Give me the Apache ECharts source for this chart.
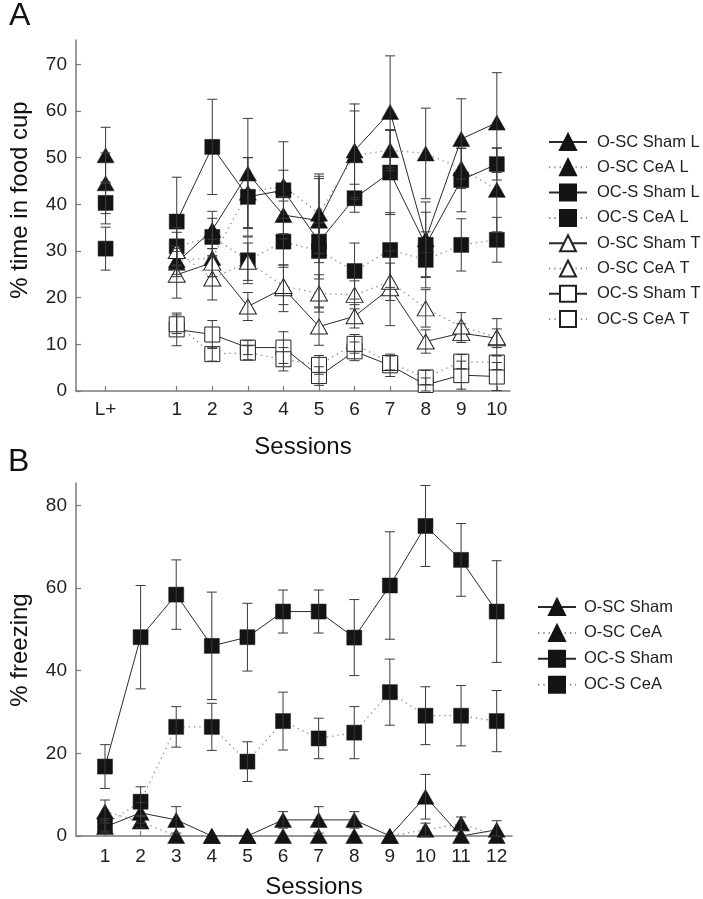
<!DOCTYPE html>
<html><head><meta charset="utf-8">
<script src="https://cdn.jsdelivr.net/npm/echarts@6/dist/echarts.min.js"></script>
<style>html,body{margin:0;padding:0;background:#fff}#c{width:703px;height:899px}</style>
</head><body><div id="c"></div>
<script>
// ---------- Panel A data ----------
const sessionsA = [1,2,3,4,5,6,7,8,9,10];
const lPlusPos = -1;
const xTickValuesA = [-1,1,2,3,4,5,6,7,8,9,10];
const xTickLabelsA = ['L+','1','2','3','4','5','6','7','8','9','10'];
const yTicksA = [0,10,20,30,40,50,60,70];

const oscShamL      = [27.5, 34.5, 46.6, 37.7, 36.5, 51.5, 59.8, 32.5, 54.0, 57.5];
const oscShamLErr   = [3, 4, 11.8, 4, 9, 10, 12, 8, 8.6, 10.7];
const oscShamLPlus  = [50.5, 6];
const oscCeaL       = [28.0, 28.5, 42.5, 44.0, 38.0, 50.5, 51.6, 50.9, 47.7, 43.1];
const oscCeaLErr    = [3, 4, 7.5, 3.3, 8.5, 9.5, 4.4, 9.7, 4.3, 9];
const oscCeaLPlus   = [44.5, 6.5];
const ocsShamL      = [36.3, 52.3, 41.6, 43.0, 32.0, 41.3, 46.8, 31.3, 45.2, 48.6];
const ocsShamLErr   = [9.5, 10.2, 8.4, 10.4, 14, 3, 9, 7, 6.8, 3.4];
const ocsShamLPlus  = [40.3, 4.5];
const ocsCeaL       = [31.0, 33.0, 28.0, 32.0, 30.0, 25.7, 30.2, 28.1, 31.3, 32.4];
const ocsCeaLErr    = [4, 4, 5, 5, 6, 6, 8, 6, 5.6, 4.8];
const ocsCeaLPlus   = [30.5, 4.6];
const oscShamT      = [24.9, 27.5, 18.1, 22.0, 13.8, 16.0, 22.0, 10.6, 12.4, 11.3];
const oscShamTErr   = [5, 3, 3, 5, 4, 2.5, 8, 2.5, 2, 2];
const oscCeaT       = [30.0, 24.1, 27.7, 22.5, 20.9, 20.6, 23.4, 17.7, 13.8, 11.5];
const oscCeaTErr    = [4, 4.6, 4, 4, 4, 3, 4, 4, 3, 4];
const ocsShamT      = [13.2, 12.1, 9.3, 9.3, 3.2, 8.5, 5.5, 1.3, 3.4, 3.1];
const ocsShamTErr   = [3.5, 3, 1.5, 3.4, 2, 2, 2.4, 1.5, 3, 3];
const ocsCeaT       = [14.3, 7.9, 8.2, 6.8, 5.6, 10.1, 6.0, 2.9, 6.3, 6.1];
const ocsCeaTErr    = [2, 1.5, 1.5, 2.5, 2, 2, 1.5, 1.5, 1.5, 1.5];

// ---------- Panel B data ----------
const sessionsB = [1,2,3,4,5,6,7,8,9,10,11,12];
const yTicksB = [0,20,40,60,80];
const oscSham     = [2.2, 5.6, 3.9, 0, 0, 3.9, 3.9, 3.9, 0, 9.5, 0, 1.5];
const oscShamErr  = [1.5, 2.5, 3.2, 0, 0, 2, 3.2, 2, 0, 5.4, 0, 2.2];
const oscCea      = [5.9, 3.5, 0, 0, 0, 0, 0, 0, 0, 1.5, 3.0, 0];
const oscCeaErr   = [2.8, 1.5, 0, 0, 0, 0, 0, 0, 0, 1.6, 1.6, 0];
const ocsSham     = [16.8, 48.1, 58.4, 46.0, 48.1, 54.3, 54.3, 48.0, 60.6, 75.0, 66.8, 54.3];
const ocsShamErr  = [5.3, 12.5, 8.4, 13, 8.2, 5.2, 5.2, 9.2, 13, 9.8, 8.8, 12.3];
const ocsCea      = [2.7, 8.3, 26.4, 26.4, 18.0, 27.8, 23.6, 25.0, 34.8, 29.1, 29.1, 27.8];
const ocsCeaErr   = [1.5, 3.6, 4.9, 5.7, 4.8, 7, 4.9, 6.3, 8, 7, 7.3, 7.4];

// ---------- helpers ----------
const FONT = "'Liberation Sans', Arial, sans-serif";
const BLACK = '#141414';
function pairs(xs, ys){ return xs.map((x,i)=>[x, ys[i]]); }
function errs(xs, ys, es){ return xs.map((x,i)=>[x, ys[i], es[i]]).filter(d=>d[2]>0); }

function renderErr(params, api){
  const x = api.value(0), y = api.value(1), e = api.value(2);
  const top = api.coord([x, y + e]);
  const bot = api.coord([x, Math.max(0, y - e)]);
  const hw = 5;
  const st = {stroke:'#3a3a3a', lineWidth:1};
  return {type:'group', children:[
    {type:'line', shape:{x1:top[0],y1:top[1],x2:bot[0],y2:bot[1]}, style:st},
    {type:'line', shape:{x1:top[0]-hw,y1:top[1],x2:top[0]+hw,y2:top[1]}, style:st},
    {type:'line', shape:{x1:bot[0]-hw,y1:bot[1],x2:bot[0]+hw,y2:bot[1]}, style:st}
  ]};
}

const solid  = {color:'#2a2a2a', width:1, type:'solid'};
const dotted = {color:'#8a8a8a', width:1.3, type:[1.3,4]};
const triSize = [17,15];
const sqSize = 15;

function lineSeries(name, grid, xs, ys, opts){
  return Object.assign({
    name, type:'line', xAxisIndex:grid, yAxisIndex:grid,
    data: pairs(xs, ys), showSymbol:true, connectNulls:false,
    animation:false, z:3
  }, opts);
}
function errSeries(grid, data){
  return {type:'custom', xAxisIndex:grid, yAxisIndex:grid, renderItem:renderErr,
    data, encode:{x:0,y:1}, z:4, silent:true, animation:false, clip:false};
}

const blackTri  = {symbol:'triangle', symbolSize:triSize, itemStyle:{color:BLACK, borderColor:BLACK, borderWidth:0.5}};
const blackSq   = {symbol:'rect', symbolSize:sqSize, itemStyle:{color:BLACK, borderColor:BLACK, borderWidth:0.5}};
const whiteTri  = {symbol:'triangle', symbolSize:triSize, itemStyle:{color:'#fff', borderColor:'#222', borderWidth:1}};
const whiteSq   = {symbol:'rect', symbolSize:sqSize, itemStyle:{color:'#fff', borderColor:'#222', borderWidth:1}};

function withLplus(ys, lp){
  // L+ point is drawn separately (not joined to session 1)
  return [[lPlusPos, lp[0]], [0, '-']].concat(pairs(sessionsA, ys));
}

const seriesA = [
  ['O-SC Sham L', oscShamL, oscShamLErr, oscShamLPlus, blackTri, solid],
  ['O-SC CeA L',  oscCeaL,  oscCeaLErr,  oscCeaLPlus,  blackTri, dotted],
  ['OC-S Sham L', ocsShamL, ocsShamLErr, ocsShamLPlus, blackSq, solid],
  ['OC-S CeA L',  ocsCeaL,  ocsCeaLErr,  ocsCeaLPlus,  blackSq, dotted],
  ['O-SC Sham T', oscShamT, oscShamTErr, null, whiteTri, solid],
  ['O-SC CeA T',  oscCeaT,  oscCeaTErr,  null, whiteTri, dotted],
  ['OC-S Sham T', ocsShamT, ocsShamTErr, null, whiteSq, solid],
  ['OC-S CeA T',  ocsCeaT,  ocsCeaTErr,  null, whiteSq, dotted]
];
const seriesB = [
  ['O-SC Sham', oscSham, oscShamErr, blackTri, solid],
  ['O-SC CeA',  oscCea,  oscCeaErr,  blackTri, dotted],
  ['OC-S Sham', ocsSham, ocsShamErr, blackSq, solid],
  ['OC-S CeA',  ocsCea,  ocsCeaErr,  blackSq, dotted]
];

const series = [];
seriesA.forEach(([name, ys, es, lp, sym, ls])=>{
  const s = lineSeries(name, 0, sessionsA, ys, Object.assign({lineStyle:ls}, sym));
  if (lp) s.data = withLplus(ys, lp);
  series.push(s);
});
seriesA.forEach(([name, ys, es, lp])=>{
  let d = errs(sessionsA, ys, es);
  if (lp) d = [[lPlusPos, lp[0], lp[1]]].concat(d);
  series.push(errSeries(0, d));
});
seriesB.forEach(([name, ys, es, sym, ls])=>{
  series.push(lineSeries(name, 1, sessionsB, ys, Object.assign({lineStyle:ls}, sym)));
});
seriesB.forEach(([name, ys, es])=>{
  series.push(errSeries(1, errs(sessionsB, ys, es)));
});

const axisLineStyle = {onZero:false, lineStyle:{color:'#7a7a7a', width:1.5}};
const tickStyle = {inside:true, length:5, lineStyle:{color:'#7a7a7a', width:1.2}};
const labelStyle = {color:'#222', fontSize:19, fontFamily:FONT};

const option = {
  backgroundColor:'#fff',
  animation:false,
  grid:[
    {left:76, top:40, width:434, height:351},
    {left:76, top:483, width:436, height:353}
  ],
  xAxis:[
    {type:'value', gridIndex:0, min:-1.832, max:10.37, axisLine:axisLineStyle,
     splitLine:{show:false},
     axisTick:Object.assign({customValues:xTickValuesA}, tickStyle),
     axisLabel:Object.assign({customValues:xTickValuesA, margin:9,
       formatter:v=>xTickLabelsA[xTickValuesA.indexOf(Math.round(v))] || ''}, labelStyle)},
    {type:'value', gridIndex:1, min:0.186, max:12.43, axisLine:axisLineStyle,
     splitLine:{show:false},
     axisTick:Object.assign({customValues:sessionsB}, tickStyle),
     axisLabel:Object.assign({customValues:sessionsB, margin:11}, labelStyle)}
  ],
  yAxis:[
    {type:'value', gridIndex:0, min:0, max:75.2, axisLine:Object.assign({show:true}, axisLineStyle),
     splitLine:{show:false},
     axisTick:Object.assign({show:true, customValues:yTicksA}, tickStyle),
     axisLabel:Object.assign({customValues:yTicksA, margin:9}, labelStyle)},
    {type:'value', gridIndex:1, min:0, max:85.4, axisLine:Object.assign({show:true}, axisLineStyle),
     splitLine:{show:false},
     axisTick:Object.assign({show:true, customValues:yTicksB}, tickStyle),
     axisLabel:Object.assign({customValues:yTicksB, margin:9}, labelStyle)}
  ],
  legend:[
    {orient:'vertical', left:548, top:133, padding:0, itemWidth:38, itemHeight:20, itemGap:7.3,
     data:seriesA.map(s=>s[0]), selectedMode:false,
     textStyle:{color:'#222', fontSize:16.5, fontFamily:FONT, padding:[0,0,0,5]}},
    {orient:'vertical', left:537, top:598, padding:0, itemWidth:38, itemHeight:20, itemGap:7.9,
     data:seriesB.map(s=>s[0]), selectedMode:false,
     textStyle:{color:'#222', fontSize:16.5, fontFamily:FONT, padding:[0,0,0,3]}}
  ],
  graphic:[
    {type:'text', left:9, top:0, style:{text:'A', fontSize:32, fontFamily:FONT, fill:'#111'}},
    {type:'text', left:8, top:446, style:{text:'B', fontSize:32, fontFamily:FONT, fill:'#111'}},
    {type:'text', x:303, y:447, style:{text:'Sessions', fontSize:24, fontFamily:FONT, fill:'#111', align:'center', verticalAlign:'middle'}},
    {type:'text', x:314, y:887, style:{text:'Sessions', fontSize:24, fontFamily:FONT, fill:'#111', align:'center', verticalAlign:'middle'}},
    {type:'text', x:20, y:200, rotation:Math.PI/2, style:{text:'% time in food cup', fontSize:24, fontFamily:FONT, fill:'#111', align:'center', verticalAlign:'middle'}},
    {type:'text', x:20, y:650, rotation:Math.PI/2, style:{text:'% freezing', fontSize:24, fontFamily:FONT, fill:'#111', align:'center', verticalAlign:'middle'}}
  ],
  series
};
const chart = echarts.init(document.getElementById('c'), null, {renderer:'canvas'});
chart.setOption(option);
</script>
</body></html>
